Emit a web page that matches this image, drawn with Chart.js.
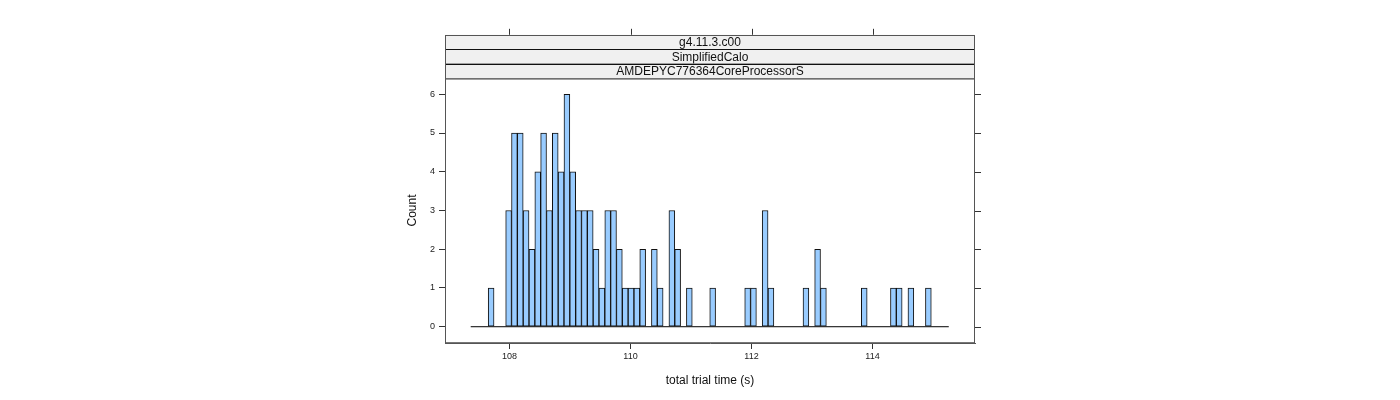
<!DOCTYPE html>
<html>
<head>
<meta charset="utf-8">
<script src="https://cdn.jsdelivr.net/npm/chart.js@4"></script>
<style>
  html, body { margin: 0; padding: 0; background: #fff; }
  #wrap { width: 1400px; height: 400px; }
</style>
</head>
<body>
<div id="wrap"><canvas id="histChart" width="1400" height="400"></canvas></div>
<script>
// Histogram breaks (seconds) and counts per bin
const breakStart = 107.359;
const binWidth = 0.09636;
const counts = [
    0, 0, 0, 1, 0, 0, 3, 5, 5, 3,
    2, 4, 5, 3, 5, 4, 6, 4, 3, 3,
    3, 2, 1, 3, 3, 2, 1, 1, 1, 2,
    0, 2, 1, 0, 3, 2, 0, 1, 0, 0,
    0, 1, 0, 0, 0, 0, 0, 1, 1, 0,
    3, 1, 0, 0, 0, 0, 0, 1, 0, 2,
    1, 0, 0, 0, 0, 0, 0, 1, 0, 0,
    0, 0, 1, 1, 0, 1, 0, 0, 1, 0,
    0, 0
];
const xTicks = [108, 110, 112, 114];
const yTicks = [0, 1, 2, 3, 4, 5, 6];
const stripLabels = ['g4.11.3.c00', 'SimplifiedCalo', 'AMDEPYC776364CoreProcessorS'];
const xLimits = [106.934, 115.694];
const yLimits = [-0.42, 6.42];

// Build bar points at bin centres
const barPoints = counts.map((c, i) => ({ x: breakStart + binWidth * (i + 0.5), y: c }));
const breakEnd = breakStart + binWidth * counts.length;

const FONT = '"Liberation Sans", Arial, sans-serif';

// Draws strips, panel box and the mirrored ticks on top / right
const latticeFrame = {
    id: 'latticeFrame',
    afterDraw(chart) {
        const { ctx, chartArea, scales } = chart;
        const stripH = 14.4;
        const top = chartArea.top - stripH * stripLabels.length;
        ctx.save();

        // strips
        stripLabels.forEach((label, i) => {
            const y0 = top + stripH * i;
            ctx.fillStyle = '#f0f0f0';
            ctx.fillRect(chartArea.left, y0, chartArea.right - chartArea.left, stripH);
            ctx.strokeStyle = '#111';
            ctx.lineWidth = 1;
            ctx.strokeRect(chartArea.left + 0.5, Math.round(y0) + 0.5, chartArea.right - chartArea.left - 1, stripH);
            ctx.fillStyle = '#111';
            ctx.font = '12px ' + FONT;
            ctx.textAlign = 'center';
            ctx.textBaseline = 'middle';
            ctx.fillText(label, (chartArea.left + chartArea.right) / 2, y0 + stripH / 2 + 1);
        });

        // outer panel box
        ctx.strokeStyle = '#555';
        ctx.strokeRect(chartArea.left + 0.5, Math.round(top) + 0.5,
            chartArea.right - chartArea.left - 1, chartArea.bottom - top - 1);

        // top ticks
        ctx.strokeStyle = '#333';
        ctx.beginPath();
        xTicks.forEach(v => {
            const px = Math.round(scales.x.getPixelForValue(v)) + 0.5;
            ctx.moveTo(px, top);
            ctx.lineTo(px, top - 6);
        });
        // right ticks
        yTicks.forEach(v => {
            const py = Math.round(scales.y.getPixelForValue(v)) + 0.5;
            ctx.moveTo(chartArea.right, py);
            ctx.lineTo(chartArea.right + 6, py);
        });
        ctx.stroke();
        ctx.restore();
    }
};

const ctx = document.getElementById('histChart').getContext('2d');
const chart = new Chart(ctx, {
    type: 'bar',
    data: {
        datasets: [{
            type: 'line',
            data: [{ x: breakStart, y: 0 }, { x: breakEnd, y: 0 }],
            borderColor: '#000',
            borderWidth: 1,
            pointRadius: 0,
            order: 2
        }, {
            data: barPoints,
            backgroundColor: '#99ccff',
            borderColor: '#111',
            borderWidth: 1,
            borderSkipped: false,
            barPercentage: 1.0,
            categoryPercentage: 1.0,
            order: 1
        }]
    },
    options: {
        responsive: false,
        animation: false,
        layout: { padding: { left: 402, right: 425, top: 78, bottom: 12 } },
        plugins: { legend: { display: false }, tooltip: { enabled: false } },
        scales: {
            x: {
                type: 'linear',
                offset: false,
                min: xLimits[0],
                max: xLimits[1],
                afterBuildTicks: scale => { scale.ticks = xTicks.map(v => ({ value: v })); },
                afterFit: scale => { scale.height = 45; },
                grid: { offset: false, drawOnChartArea: false, tickLength: 6, color: '#333' },
                border: { color: '#555' },
                ticks: {
                    font: { family: FONT, size: 9 },
                    color: '#222',
                    padding: 2,
                    maxRotation: 0
                },
                title: {
                    display: true,
                    text: 'total trial time (s)',
                    font: { family: FONT, size: 12 },
                    color: '#111',
                    padding: { top: 4, bottom: 0 }
                }
            },
            y: {
                min: yLimits[0],
                max: yLimits[1],
                afterBuildTicks: scale => { scale.ticks = yTicks.map(v => ({ value: v })); },
                afterFit: scale => { scale.width = 43; },
                grid: { drawOnChartArea: false, tickLength: 6, color: '#333' },
                border: { color: '#555' },
                ticks: {
                    font: { family: FONT, size: 9 },
                    color: '#222',
                    padding: 4
                },
                title: {
                    display: true,
                    text: 'Count',
                    font: { family: FONT, size: 12 },
                    color: '#111',
                    padding: { top: 3, bottom: 0 }
                }
            }
        }
    },
    plugins: [latticeFrame]
});
</script>
</body>
</html>
